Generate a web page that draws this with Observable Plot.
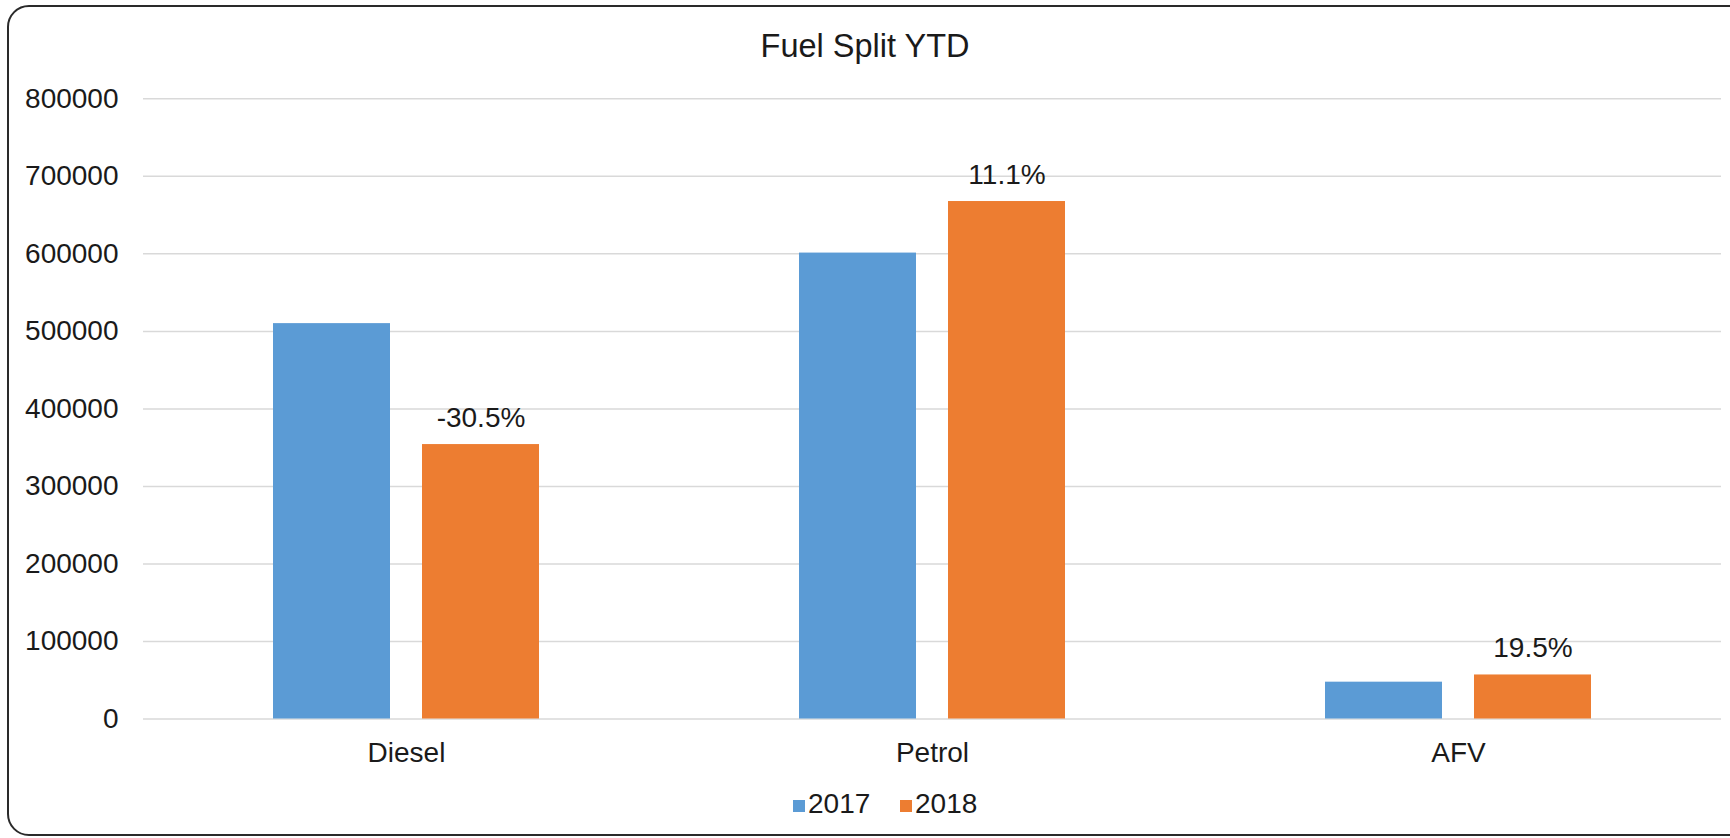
<!DOCTYPE html>
<html>
<head>
<meta charset="utf-8">
<script src="https://cdn.jsdelivr.net/npm/d3@7"></script>
<script src="https://cdn.jsdelivr.net/npm/@observablehq/plot@0.6"></script>
<style>
  html, body { margin: 0; padding: 0; background: #fff; }
  body { font-family: "Liberation Sans", Arial, sans-serif; color: #1a1a1a; }
  #page { position: absolute; left: 0; top: 0; width: 1730px; height: 838px; overflow: hidden; }
  #frame { position: absolute; left: 7px; top: 5px; width: 1760px; height: 831px;
           border: 2px solid #2a2a2a; border-radius: 22px; box-sizing: border-box; }
  #title { position: absolute; left: 0; top: 30px; width: 1730px; text-align: center;
           font-size: 32.5px; line-height: 1; }
  #chart { position: absolute; left: 0; top: 0; }
  .sw { position: absolute; width: 12px; height: 12px; top: 800px; }
  .lt { position: absolute; top: 789.5px; font-size: 28px; line-height: 1; }
</style>
</head>
<body>
<div id="page">
<div id="frame"></div>
<div id="chart"></div>
<div id="title">Fuel Split YTD</div>
<div id="legend"></div>
</div>
<script>
const categories = ["Diesel", "Petrol", "AFV"];
const years = ["2017", "2018"];
const values2017 = [510000, 601000, 47500];
const values2018 = [354000, 667500, 56800];
const changeLabels = ["-30.5%", "11.1%", "19.5%"];
const yTicks = [0, 100000, 200000, 300000, 400000, 500000, 600000, 700000, 800000];
const colors = ["#5B9BD5", "#ED7D31"];

const rows = [];
categories.forEach((c, i) => {
  rows.push({cat: c, year: years[0], value: values2017[i]});
  rows.push({cat: c, year: years[1], value: values2018[i]});
});
const labelRows = categories.map((c, i) => ({cat: c, year: years[1], value: values2018[i], label: changeLabels[i]}));

const chart = Plot.plot({
  width: 1730,
  height: 780,
  marginLeft: 142,
  marginRight: 8,
  marginTop: 98.3,
  marginBottom: 61.5,
  style: {fontSize: "28px", fontFamily: "'Liberation Sans', Arial, sans-serif", color: "#1a1a1a", background: "transparent"},
  fx: {domain: categories, padding: 0, axis: "bottom", tickSize: 0, tickPadding: 23, label: null},
  x: {domain: years, axis: null, paddingInner: 0.2133, paddingOuter: 0.863},
  y: {domain: [0, 800000], ticks: yTicks, tickFormat: d3.format("d"), tickSize: 0, tickPadding: 25, label: null},
  color: {domain: years, range: colors},
  marks: [
    Plot.ruleY(yTicks, {stroke: "#d9d9d9", strokeWidth: 1.5}),
    Plot.barY(rows, {fx: "cat", x: "year", y: "value", fill: "year"}),
    Plot.text(labelRows, {fx: "cat", x: "year", y: "value", text: "label", lineAnchor: "bottom", dy: -18, fill: "#1a1a1a"})
  ]
});
document.getElementById("chart").appendChild(chart);

const legend = document.getElementById("legend");
const swX = [793, 900];
years.forEach((y, i) => {
  const s = document.createElement("div");
  s.className = "sw";
  s.style.left = swX[i] + "px";
  s.style.background = colors[i];
  legend.appendChild(s);
  const t = document.createElement("div");
  t.className = "lt";
  t.style.left = (swX[i] + 15) + "px";
  t.textContent = y;
  legend.appendChild(t);
});
</script>
</body>
</html>
